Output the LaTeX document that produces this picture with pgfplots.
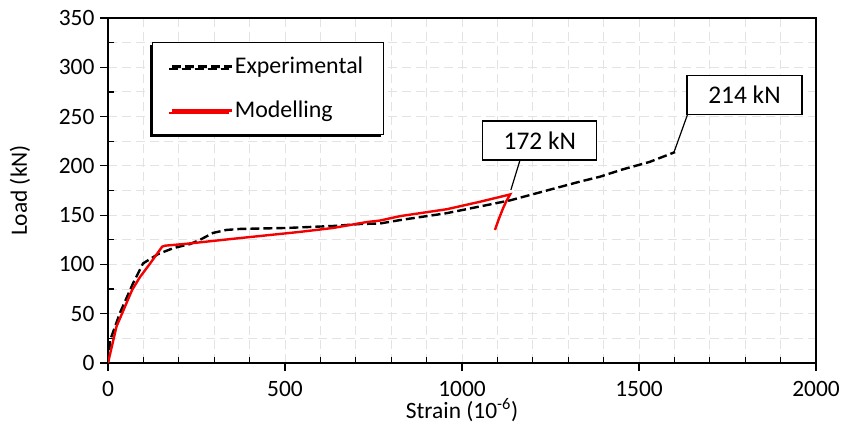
\documentclass[border=0pt]{standalone}
\usepackage{fontspec}
\setmainfont{Carlito}
\usepackage{pgfplots}
\pgfplotsset{compat=1.18}
\usetikzlibrary{calc,shadows}
\definecolor{modred}{RGB}{245,0,0}
\begin{document}
\begin{tikzpicture}
\begin{axis}[
  name=ax,
  scale only axis,
  width=708bp, height=345bp,
  xmin=0, xmax=2000, ymin=0, ymax=350,
  xtick={0,500,...,2000}, ytick={0,50,...,350},
  minor x tick num=4, minor y tick num=1,
  xtick pos=left, ytick pos=left,
  tick align=outside,
  major tick length=8bp, minor tick length=-6bp,
  tick style={black, line width=1.2bp},
  axis line style={black, line width=1.8bp},
  grid=both,
  major grid style={gray!22, line width=0.9bp, dash pattern=on 9bp off 5bp},
  minor grid style={gray!22, line width=0.9bp, dash pattern=on 9bp off 5bp},
  /pgf/number format/assume math mode=true,
  ticklabel style={font=\fontsize{23.5}{27}\selectfont},
  xticklabel style={yshift=-7bp},
  yticklabel style={xshift=-2bp},
  scaled ticks=false,
  /pgf/number format/set thousands separator={},
  legend cell align=left,
  legend style={at={(axis cs:124,326)}, anchor=north west, draw=black, line width=1.2bp,
    fill=white, font=\fontsize{24}{28}\selectfont,
    inner xsep=18bp, inner ysep=13bp, row sep=22bp,
    drop shadow={shadow xshift=-2.5bp, shadow yshift=-2.5bp, fill=black, opacity=1},
    nodes={inner sep=2bp}},
  legend image code/.code={\draw[#1] (2bp,0bp) -- (62bp,0bp);},
]
\addplot[black, line width=2.4bp, dash pattern=on 9bp off 4bp] coordinates {
(0,0) (6,23) (20,37) (34,51) (71,81) (99,101) (119,105.5) (142,110.6) (185,116.6)
(232,120.7) (260,125) (297,132) (335,135) (373,136) (505,137) (636,139) (712,141)
(768,141.5) (825,145) (957,152) (1136,165) (1333,184) (1390,189) (1450,196) (1530,204) (1602,214)
};
\addlegendentry{Experimental}
\addplot[modred, line width=2.4bp] coordinates {
(0,0) (24,37) (68,74) (90,87) (119,101) (147,115) (153,118) (161,119) (223,121) (353,126)
(542,133) (636,137) (731,143) (768,144.5) (825,149) (957,156) (1051,163.6) (1136,171)
(1125,164) (1116,157) (1105,147) (1093,135)
};
\addlegendentry{Modelling}
\draw[black, line width=1.2bp] (axis cs:1138,175.5) -- (axis cs:1164,206);
\node[draw=black, line width=1.2bp, fill=white, minimum width=114bp, minimum height=39bp,
  font=\fontsize{25.5}{29}\selectfont] at (axis cs:1220,225.7) {172 kN};
\draw[black, line width=1.2bp] (axis cs:1599,214) -- (axis cs:1638,253);
\node[draw=black, line width=1.2bp, fill=white, minimum width=115bp, minimum height=39bp,
  font=\fontsize{25.5}{29}\selectfont] at (axis cs:1798,272) {214 kN};
\end{axis}
\node[rotate=90, font=\fontsize{23.5}{27}\selectfont] at ([xshift=-88bp]ax.west) {Load (kN)};
\node[font=\fontsize{23.5}{27}\selectfont] at ([yshift=-47bp]ax.south) {Strain (10\textsuperscript{-6})};
\pgfresetboundingbox
\path ([xshift=-108bp,yshift=-71bp]ax.south west) rectangle ([xshift=26bp,yshift=18bp]ax.north east);
\end{tikzpicture}
\end{document}
